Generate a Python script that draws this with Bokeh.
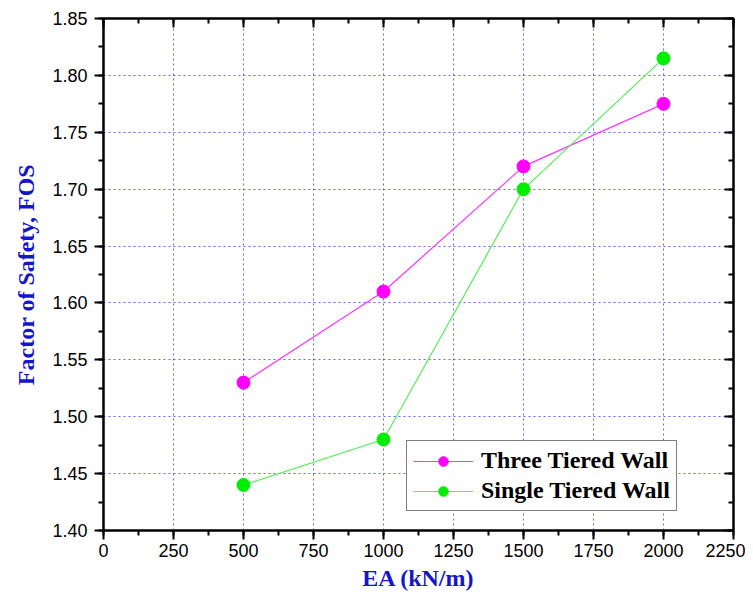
from bokeh.plotting import figure
from bokeh.models import (Range1d, LinearAxis, SingleIntervalTicker, PrintfTickFormatter,
                          Legend, LegendItem, CustomJSTickFormatter)
from bokeh.embed import file_html
from bokeh.resources import INLINE

ea = [500, 1000, 1500, 2000]
three_tiered = [1.53, 1.61, 1.72, 1.775]
single_tiered = [1.44, 1.48, 1.70, 1.815]
series_names = ["Three Tiered Wall", "Single Tiered Wall"]

p = figure(output_backend="svg", toolbar_location=None,
           frame_width=630, frame_height=512,
           min_border_left=103, min_border_top=18, min_border_right=12, min_border_bottom=58,
           x_range=Range1d(0, 2250), y_range=Range1d(1.40, 1.85),
           x_axis_label="EA (kN/m)", y_axis_label="Factor of Safety, FOS")
p.background_fill_color = "white"
p.border_fill_color = "white"
p.outline_line_color = "black"
p.outline_line_width = 2

xt = SingleIntervalTicker(interval=250, num_minor_ticks=2)
yt = SingleIntervalTicker(interval=0.05, num_minor_ticks=2)

for ax, tk, fmt in ((p.xaxis[0], xt, "%d"), (p.yaxis[0], yt, "%.2f")):
    ax.ticker = tk
    ax.formatter = PrintfTickFormatter(format=fmt)
    ax.axis_line_width = 2
    ax.axis_line_color = "black"
    ax.major_tick_line_width = 2
    ax.minor_tick_line_width = 2
    ax.major_tick_in = 0
    ax.major_tick_out = 9
    ax.minor_tick_in = 0
    ax.minor_tick_out = 5
    ax.major_label_text_font = "Liberation Sans"
    ax.major_label_text_font_size = "18px"
    ax.major_label_text_color = "black"
    ax.axis_label_text_font = "Liberation Serif"
    ax.axis_label_text_font_style = "bold"
    ax.axis_label_text_color = "#1515CC"
    ax.axis_label_text_font_size = "24px"
p.yaxis[0].major_label_standoff = 7
p.xaxis[0].major_label_standoff = 4
p.yaxis[0].axis_label_standoff = 10
p.xaxis[0].axis_label_standoff = 5

blank = CustomJSTickFormatter(code="return ''")
for loc in ("above", "right"):
    ax = LinearAxis(ticker=SingleIntervalTicker(interval=250 if loc == "above" else 0.05,
                                                num_minor_ticks=2),
                    formatter=blank,
                    axis_line_width=2, major_tick_line_width=2, minor_tick_line_width=2,
                    major_tick_in=9, major_tick_out=0, minor_tick_in=5, minor_tick_out=0,
                    major_label_standoff=0)
    p.add_layout(ax, loc)

for g in (p.xgrid[0], p.ygrid[0]):
    g.grid_line_color = "#3030FF"
    g.grid_line_alpha = 0.75
    g.grid_line_dash = "2 3"
    g.grid_line_width = 1
p.xgrid[0].ticker = xt
p.ygrid[0].ticker = yt

l1 = p.line(ea, three_tiered, line_color="#FF33FF", line_width=1.2)
m1 = p.scatter(ea, three_tiered, size=13, fill_color="#FF00FF", line_color="#FF00FF")
l2 = p.line(ea, single_tiered, line_color="#55EE55", line_width=1.2)
m2 = p.scatter(ea, single_tiered, size=13, fill_color="#00EE00", line_color="#00EE00")

legend = Legend(items=[LegendItem(label=series_names[0], renderers=[l1, m1]),
                       LegendItem(label=series_names[1], renderers=[l2, m2])],
                location=(303, 19))
legend.label_text_font = "Liberation Serif"
legend.label_text_font_style = "bold"
legend.label_text_font_size = "24px"
legend.label_text_color = "black"
legend.glyph_width = 60
legend.glyph_height = 24
legend.label_height = 24
legend.label_standoff = 8
legend.spacing = 3
legend.padding = 6
legend.margin = 0
legend.border_line_color = "black"
legend.border_line_width = 1.5
legend.background_fill_color = "white"
p.add_layout(legend, "center")

open("out.html", "w").write(file_html(p, INLINE))
